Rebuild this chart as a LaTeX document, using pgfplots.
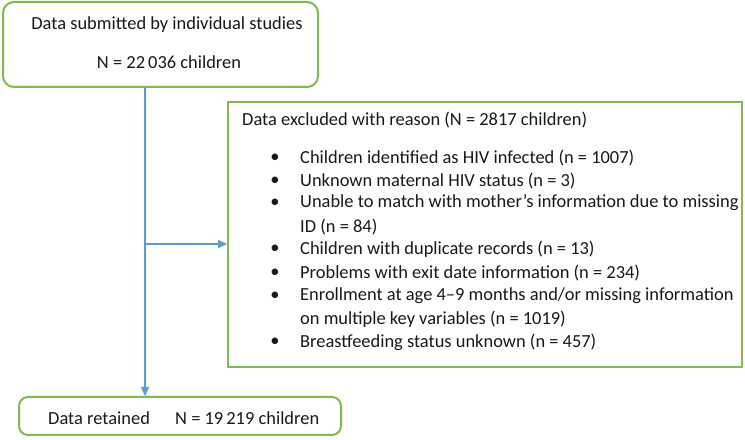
\documentclass[border=0pt]{standalone}
\usepackage{pgfplots}
\pgfplotsset{compat=1.18}
\usepackage{fontspec}
\setmainfont{Carlito}
\usetikzlibrary{arrows.meta}
\definecolor{boxgreen}{RGB}{128,186,80}
\definecolor{arrowblue}{RGB}{91,155,213}
\definecolor{txt}{RGB}{25,25,25}
\tikzset{t/.style={font=\fontsize{18.5}{22.7}\selectfont, text=txt, inner sep=0pt}}
\begin{document}
\begin{tikzpicture}
\begin{axis}[
  scale only axis, width=745bp, height=440bp,
  xmin=0, xmax=745, ymin=0, ymax=440, y dir=reverse,
  hide axis, clip=false,
]
\path (rel axis cs:0,0) rectangle (rel axis cs:1,1);
% connectors
\addplot[arrowblue, line width=1.5bp, -{Triangle[length=9bp,width=8bp]}] coordinates {(145,87) (145,396)};
\addplot[arrowblue, line width=1.5bp, -{Triangle[length=9bp,width=8bp]}] coordinates {(145,244) (227,244)};
% boxes
\draw[boxgreen, line width=2bp, rounded corners=11bp] (axis cs:3,2) rectangle (axis cs:318,87);
\draw[boxgreen, line width=2bp] (axis cs:228,102) rectangle (axis cs:742,367);
\draw[boxgreen, line width=2bp, rounded corners=9bp] (axis cs:19,397) rectangle (axis cs:341,435);
% top box text
\node[t, anchor=center] at (axis cs:167,25) {Data submitted by individual studies};
\node[t, anchor=center] at (axis cs:169,62) {N = 22\,036 children};
% right box text
\node[t, anchor=west] at (axis cs:242,120) {Data excluded with reason (N = 2817 children)};
\node[t, anchor=center] at (axis cs:275,158) {\textbullet};
\node[t, anchor=center] at (axis cs:275,181) {\textbullet};
\node[t, anchor=center] at (axis cs:275,203) {\textbullet};
\node[t, anchor=center] at (axis cs:275,249) {\textbullet};
\node[t, anchor=center] at (axis cs:275,273) {\textbullet};
\node[t, anchor=center] at (axis cs:275,296) {\textbullet};
\node[t, anchor=center] at (axis cs:275,342) {\textbullet};
\node[t, anchor=west] at (axis cs:300,158) {Children identified as HIV infected (n = 1007)};
\node[t, anchor=west] at (axis cs:300,181) {Unknown maternal HIV status (n = 3)};
\node[t, anchor=west] at (axis cs:300,203) {Unable to match with mother's information due to missing};
\node[t, anchor=west] at (axis cs:300,227) {ID (n = 84)};
\node[t, anchor=west] at (axis cs:300,249) {Children with duplicate records (n = 13)};
\node[t, anchor=west] at (axis cs:300,273) {Problems with exit date information (n = 234)};
\node[t, anchor=west] at (axis cs:300,296) {Enrollment at age 4–9 months and/or missing information};
\node[t, anchor=west] at (axis cs:300,319) {on multiple key variables (n = 1019)};
\node[t, anchor=west] at (axis cs:300,342) {Breastfeeding status unknown (n = 457)};
% bottom box text
\node[t, anchor=west] at (axis cs:48,418) {Data retained};
\node[t, anchor=west] at (axis cs:175,418) {N = 19\,219 children};
\end{axis}
\end{tikzpicture}
\end{document}
